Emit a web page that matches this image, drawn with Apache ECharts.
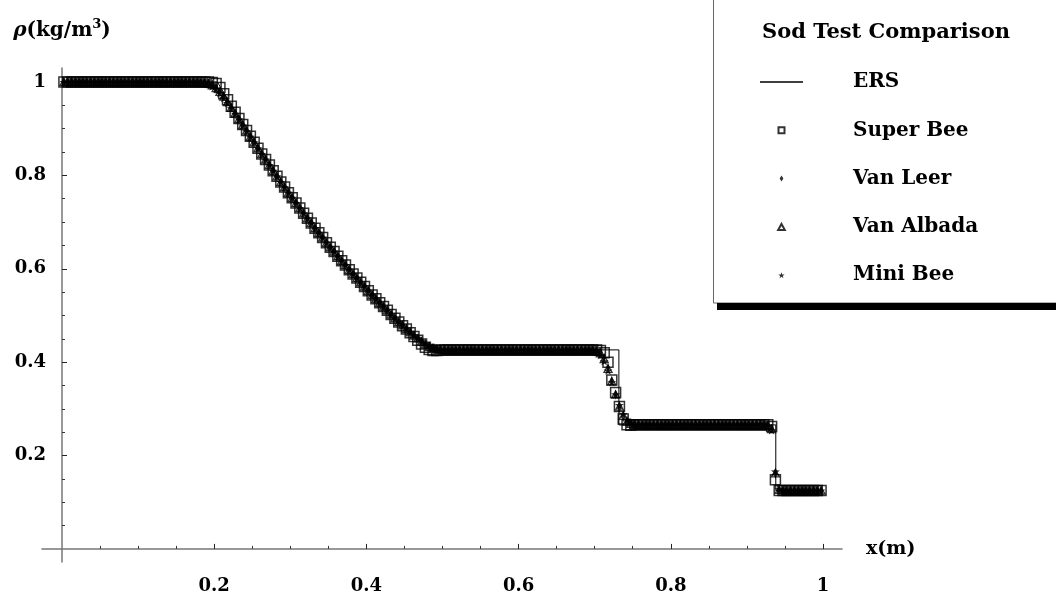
<!DOCTYPE html>
<html>
<head>
<meta charset="utf-8">
<script src="https://cdn.jsdelivr.net/npm/echarts@6/dist/echarts.min.js"></script>
<style>
html,body{margin:0;padding:0;background:#fff;}
#chart{width:1056px;height:603px;}
</style>
</head>
<body>
<div id="chart"></div>
<script>
// cell centres (200 cells)
const xCells = [
0.0025,0.0075,0.0125,0.0175,0.0225,0.0275,0.0325,0.0375,0.0425,0.0475,
0.0525,0.0575,0.0625,0.0675,0.0725,0.0775,0.0825,0.0875,0.0925,0.0975,
0.1025,0.1075,0.1125,0.1175,0.1225,0.1275,0.1325,0.1375,0.1425,0.1475,
0.1525,0.1575,0.1625,0.1675,0.1725,0.1775,0.1825,0.1875,0.1925,0.1975,
0.2025,0.2075,0.2125,0.2175,0.2225,0.2275,0.2325,0.2375,0.2425,0.2475,
0.2525,0.2575,0.2625,0.2675,0.2725,0.2775,0.2825,0.2875,0.2925,0.2975,
0.3025,0.3075,0.3125,0.3175,0.3225,0.3275,0.3325,0.3375,0.3425,0.3475,
0.3525,0.3575,0.3625,0.3675,0.3725,0.3775,0.3825,0.3875,0.3925,0.3975,
0.4025,0.4075,0.4125,0.4175,0.4225,0.4275,0.4325,0.4375,0.4425,0.4475,
0.4525,0.4575,0.4625,0.4675,0.4725,0.4775,0.4825,0.4875,0.4925,0.4975,
0.5025,0.5075,0.5125,0.5175,0.5225,0.5275,0.5325,0.5375,0.5425,0.5475,
0.5525,0.5575,0.5625,0.5675,0.5725,0.5775,0.5825,0.5875,0.5925,0.5975,
0.6025,0.6075,0.6125,0.6175,0.6225,0.6275,0.6325,0.6375,0.6425,0.6475,
0.6525,0.6575,0.6625,0.6675,0.6725,0.6775,0.6825,0.6875,0.6925,0.6975,
0.7025,0.7075,0.7125,0.7175,0.7225,0.7275,0.7325,0.7375,0.7425,0.7475,
0.7525,0.7575,0.7625,0.7675,0.7725,0.7775,0.7825,0.7875,0.7925,0.7975,
0.8025,0.8075,0.8125,0.8175,0.8225,0.8275,0.8325,0.8375,0.8425,0.8475,
0.8525,0.8575,0.8625,0.8675,0.8725,0.8775,0.8825,0.8875,0.8925,0.8975,
0.9025,0.9075,0.9125,0.9175,0.9225,0.9275,0.9325,0.9375,0.9425,0.9475,
0.9525,0.9575,0.9625,0.9675,0.9725,0.9775,0.9825,0.9875,0.9925,0.9975
];

const superBee = [
1,1,1,1,1,1,1,1,1,1,
1,1,1,1,1,1,1,1,1,1,
1,1,1,1,1,1,1,1,1,1,
1,1,1,1,1,1,1,1,1,0.999,
0.997,0.988,0.975,0.962,0.948,0.935,0.922,0.909,0.896,0.884,
0.871,0.858,0.846,0.834,0.822,0.810,0.798,0.786,0.775,0.763,
0.752,0.741,0.730,0.719,0.708,0.698,0.687,0.677,0.667,0.656,
0.646,0.637,0.627,0.617,0.608,0.598,0.589,0.580,0.571,0.562,
0.553,0.544,0.536,0.527,0.519,0.511,0.502,0.494,0.486,0.478,
0.471,0.463,0.455,0.447,0.439,0.432,0.427,0.425,0.425,0.426,
0.426,0.426,0.426,0.426,0.426,0.426,0.426,0.426,0.426,0.426,
0.426,0.426,0.426,0.426,0.426,0.426,0.426,0.426,0.426,0.426,
0.426,0.426,0.426,0.426,0.426,0.426,0.426,0.426,0.426,0.426,
0.426,0.426,0.426,0.426,0.426,0.426,0.426,0.426,0.426,0.426,
0.426,0.425,0.420,0.400,0.362,0.335,0.305,0.278,0.266,0.265,
0.266,0.266,0.266,0.266,0.266,0.266,0.266,0.266,0.266,0.266,
0.266,0.266,0.266,0.266,0.266,0.266,0.266,0.266,0.266,0.266,
0.266,0.266,0.266,0.266,0.266,0.266,0.266,0.266,0.266,0.266,
0.266,0.266,0.266,0.266,0.266,0.266,0.262,0.148,0.125,0.125,
0.125,0.125,0.125,0.125,0.125,0.125,0.125,0.125,0.125,0.125
];

const vanLeer = [
1,1,1,1,1,1,1,1,1,1,
1,1,1,1,1,1,1,1,1,1,
1,1,1,1,1,1,1,1,1,1,
1,1,1,1,1,1,1,0.999,0.998,0.995,
0.989,0.981,0.970,0.958,0.946,0.934,0.921,0.909,0.896,0.883,
0.871,0.858,0.846,0.834,0.822,0.810,0.798,0.786,0.775,0.763,
0.752,0.741,0.730,0.719,0.708,0.698,0.687,0.677,0.667,0.656,
0.646,0.637,0.627,0.617,0.608,0.598,0.589,0.580,0.571,0.562,
0.553,0.544,0.536,0.527,0.519,0.511,0.502,0.494,0.486,0.479,
0.471,0.464,0.457,0.450,0.443,0.437,0.432,0.429,0.427,0.426,
0.426,0.426,0.426,0.426,0.426,0.426,0.426,0.426,0.426,0.426,
0.426,0.426,0.426,0.426,0.426,0.426,0.426,0.426,0.426,0.426,
0.426,0.426,0.426,0.426,0.426,0.426,0.426,0.426,0.426,0.426,
0.426,0.426,0.426,0.426,0.426,0.426,0.426,0.426,0.426,0.426,
0.425,0.421,0.410,0.388,0.360,0.330,0.302,0.282,0.271,0.267,
0.266,0.266,0.266,0.266,0.266,0.266,0.266,0.266,0.266,0.266,
0.266,0.266,0.266,0.266,0.266,0.266,0.266,0.266,0.266,0.266,
0.266,0.266,0.266,0.266,0.266,0.266,0.266,0.266,0.266,0.266,
0.266,0.266,0.266,0.266,0.266,0.265,0.258,0.160,0.126,0.125,
0.125,0.125,0.125,0.125,0.125,0.125,0.125,0.125,0.125,0.125
];

const vanAlbada = [
1,1,1,1,1,1,1,1,1,1,
1,1,1,1,1,1,1,1,1,1,
1,1,1,1,1,1,1,1,1,1,
1,1,1,1,1,1,0.999,0.999,0.997,0.993,
0.987,0.979,0.969,0.957,0.945,0.933,0.921,0.908,0.896,0.883,
0.871,0.858,0.846,0.834,0.822,0.810,0.798,0.786,0.775,0.763,
0.752,0.741,0.730,0.719,0.708,0.698,0.687,0.677,0.667,0.656,
0.646,0.637,0.627,0.617,0.608,0.598,0.589,0.580,0.571,0.562,
0.553,0.544,0.536,0.527,0.519,0.511,0.502,0.494,0.486,0.479,
0.471,0.464,0.457,0.451,0.444,0.438,0.433,0.430,0.428,0.427,
0.426,0.426,0.426,0.426,0.426,0.426,0.426,0.426,0.426,0.426,
0.426,0.426,0.426,0.426,0.426,0.426,0.426,0.426,0.426,0.426,
0.426,0.426,0.426,0.426,0.426,0.426,0.426,0.426,0.426,0.426,
0.426,0.426,0.426,0.426,0.426,0.426,0.426,0.426,0.426,0.426,
0.424,0.419,0.407,0.386,0.359,0.331,0.305,0.285,0.273,0.268,
0.266,0.266,0.266,0.266,0.266,0.266,0.266,0.266,0.266,0.266,
0.266,0.266,0.266,0.266,0.266,0.266,0.266,0.266,0.266,0.266,
0.266,0.266,0.266,0.266,0.266,0.266,0.266,0.266,0.266,0.266,
0.266,0.266,0.266,0.266,0.266,0.265,0.257,0.162,0.127,0.125,
0.125,0.125,0.125,0.125,0.125,0.125,0.125,0.125,0.125,0.125
];

const miniBee = [
1,1,1,1,1,1,1,1,1,1,
1,1,1,1,1,1,1,1,1,1,
1,1,1,1,1,1,1,1,1,1,
1,1,1,1,1,0.999,0.999,0.998,0.995,0.991,
0.985,0.976,0.966,0.955,0.944,0.932,0.920,0.907,0.895,0.883,
0.871,0.858,0.846,0.834,0.822,0.810,0.798,0.786,0.775,0.763,
0.752,0.741,0.730,0.719,0.708,0.698,0.687,0.677,0.667,0.656,
0.646,0.637,0.627,0.617,0.608,0.598,0.589,0.580,0.571,0.562,
0.553,0.544,0.536,0.527,0.519,0.511,0.502,0.494,0.486,0.479,
0.472,0.465,0.458,0.452,0.446,0.440,0.435,0.431,0.429,0.427,
0.426,0.426,0.426,0.426,0.426,0.426,0.426,0.426,0.426,0.426,
0.426,0.426,0.426,0.426,0.426,0.426,0.426,0.426,0.426,0.426,
0.426,0.426,0.426,0.426,0.426,0.426,0.426,0.426,0.426,0.426,
0.426,0.426,0.426,0.426,0.426,0.426,0.426,0.426,0.426,0.425,
0.422,0.415,0.402,0.382,0.357,0.331,0.308,0.289,0.277,0.270,
0.267,0.266,0.266,0.266,0.266,0.266,0.266,0.266,0.266,0.266,
0.266,0.266,0.266,0.266,0.266,0.266,0.266,0.266,0.266,0.266,
0.266,0.266,0.266,0.266,0.266,0.266,0.266,0.266,0.266,0.266,
0.266,0.266,0.266,0.266,0.266,0.264,0.254,0.166,0.128,0.125,
0.125,0.125,0.125,0.125,0.125,0.125,0.125,0.125,0.125,0.125
];

// exact Riemann solver profile
const ersX = [0,0.2042,
0.2075,0.2175,0.2275,0.2375,0.2475,0.2575,0.2675,0.2775,0.2875,0.2975,
0.3075,0.3175,0.3275,0.3375,0.3475,0.3575,0.3675,0.3775,0.3875,0.3975,
0.4075,0.4175,0.4275,0.4375,0.4475,0.4575,0.4675,0.4775,
0.4824,0.7318,0.7318,0.9380,0.9380,1];
const ersY = [1,1,
0.991,0.963,0.936,0.910,0.884,0.859,0.834,0.810,0.786,0.763,
0.741,0.719,0.698,0.677,0.656,0.637,0.617,0.598,0.580,0.562,
0.544,0.527,0.511,0.494,0.478,0.463,0.448,0.433,
0.4263,0.4263,0.2656,0.2656,0.125,0.125];

const xMajorTicks = [0.2,0.4,0.6,0.8,1];
const xMinorTicks = [0.05,0.1,0.15,0.25,0.3,0.35,0.45,0.5,0.55,0.65,0.7,0.75,0.85,0.9,0.95];
const yMajorTicks = [0.2,0.4,0.6,0.8,1];
const yMinorTicks = [0.05,0.1,0.15,0.25,0.3,0.35,0.45,0.5,0.55,0.65,0.7,0.75,0.85,0.9,0.95];

function pairs(xs, ys){ return xs.map(function(x,i){ return [x, ys[i]]; }); }

const FONT = 'DejaVu Serif';
const SQUARE = 'path://M0,0L10,0L10,10L0,10Z';
const TRIANGLE = 'path://M5,0L10,9L0,9Z';
const STAR = 'path://M0,-10L2.35,-3.24L9.51,-3.09L3.8,1.24L5.88,8.09L0,4L-5.88,8.09L-3.8,1.24L-9.51,-3.09L-2.35,-3.24Z';
const DIAMOND = 'path://M0,-8L5,0L0,8L-5,0Z';
const RULE = 'path://M0,0L43,0L43,1.4L0,1.4Z';

const XMIN = -0.0263, XMAX = 1.025, YMIN = -0.028, YMAX = 1.030;
const axisLineStyle = {color:'#777', width:1.5};

const chart = echarts.init(document.getElementById('chart'), null, {renderer:'canvas'});
chart.setOption({
  animation:false,
  backgroundColor:'#fff',
  title:{
    text:'Sod Test Comparison', left:762, top:21, padding:0,
    textStyle:{fontFamily:FONT, fontWeight:'bold', fontSize:21, color:'#000', lineHeight:24}
  },
  graphic:[
    {type:'rect', z:0, shape:{x:713.5, y:-2, width:400, height:305}, style:{fill:'#fff', stroke:'#666', lineWidth:1}},
    {type:'rect', z:0, shape:{x:717, y:303, width:400, height:7}, style:{fill:'#000'}}
  ],
  legend:{
    orient:'vertical', left:760, top:70, padding:0, itemGap:24.3,
    itemWidth:43, itemHeight:6, selectedMode:false, symbolKeepAspect:true,
    data:[
      {name:'ERS', icon:RULE},
      {name:'Super Bee', icon:SQUARE},
      {name:'Van Leer', icon:DIAMOND},
      {name:'Van Albada', icon:TRIANGLE},
      {name:'Mini Bee', icon:STAR}
    ],
    textStyle:{fontFamily:FONT, fontWeight:'bold', fontSize:20, color:'#000', lineHeight:24, padding:[0,0,0,45]}
  },
  grid:{left:42, top:68, width:800, height:494, containLabel:false, outerBoundsMode:'none'},
  xAxis:[
    {type:'value', min:XMIN, max:XMAX,
     axisLine:{onZero:true, lineStyle:axisLineStyle},
     axisTick:{inside:true, length:5, customValues:xMajorTicks, lineStyle:{color:'#222', width:1}},
     axisLabel:{customValues:xMajorTicks, margin:15, fontFamily:FONT, fontWeight:'bold', fontSize:18, color:'#000'},
     splitLine:{show:false},
     name:'x(m)', nameLocation:'end', nameGap:24,
     nameTextStyle:{fontFamily:FONT, fontWeight:'bold', fontSize:19, color:'#000'}
    },
    {type:'value', min:XMIN, max:XMAX, position:'bottom',
     axisLine:{show:false, onZero:true, onZeroAxisIndex:0},
     axisTick:{inside:true, length:3, customValues:xMinorTicks, lineStyle:{color:'#333', width:1}},
     axisLabel:{show:false}, splitLine:{show:false}}
  ],
  yAxis:[
    {type:'value', min:YMIN, max:YMAX,
     axisLine:{onZero:true, lineStyle:axisLineStyle},
     axisTick:{inside:true, length:5, customValues:yMajorTicks, lineStyle:{color:'#222', width:1}},
     axisLabel:{customValues:yMajorTicks, margin:-4, fontFamily:FONT, fontWeight:'bold', fontSize:18, color:'#000'},
     splitLine:{show:false},
     name:'{r|ρ}{b|(kg/m}{s|3}{b|)}', nameLocation:'end', nameGap:24,
     nameTextStyle:{
       rich:{
         r:{fontFamily:FONT, fontStyle:'italic', fontWeight:'bold', fontSize:20, color:'#000', lineHeight:26},
         b:{fontFamily:FONT, fontWeight:'bold', fontSize:20, color:'#000', lineHeight:26},
         s:{fontFamily:FONT, fontWeight:'bold', fontSize:13, color:'#000', lineHeight:14, verticalAlign:'top'}
       }
     }
    },
    {type:'value', min:YMIN, max:YMAX, position:'left',
     axisLine:{show:false, onZero:true, onZeroAxisIndex:0},
     axisTick:{inside:true, length:3, customValues:yMinorTicks, lineStyle:{color:'#333', width:1}},
     axisLabel:{show:false}, splitLine:{show:false}}
  ],
  series:[
    {name:'Super Bee', type:'scatter', xAxisIndex:0, yAxisIndex:0, z:2,
     symbol:SQUARE, symbolSize:10, symbolKeepAspect:true,
     itemStyle:{color:'rgba(255,255,255,0)', borderColor:'#000', borderWidth:1.5},
     data:pairs(xCells, superBee)},
    {name:'Van Leer', type:'scatter', xAxisIndex:0, yAxisIndex:0, z:3,
     symbol:DIAMOND, symbolSize:[6,10], symbolKeepAspect:true,
     itemStyle:{color:'#000'},
     data:pairs(xCells, vanLeer)},
    {name:'Van Albada', type:'scatter', xAxisIndex:0, yAxisIndex:0, z:4,
     symbol:TRIANGLE, symbolSize:8, symbolKeepAspect:true,
     itemStyle:{color:'rgba(255,255,255,0)', borderColor:'#000', borderWidth:1.3},
     data:pairs(xCells, vanAlbada)},
    {name:'Mini Bee', type:'scatter', xAxisIndex:0, yAxisIndex:0, z:5,
     symbol:STAR, symbolSize:9, symbolKeepAspect:true,
     itemStyle:{color:'#000'},
     data:pairs(xCells, miniBee)},
    {name:'ERS', type:'line', xAxisIndex:0, yAxisIndex:0, z:6,
     symbol:'none', showSymbol:false,
     itemStyle:{color:'#000'},
     lineStyle:{color:'#000', width:1},
     data:pairs(ersX, ersY)}
  ]
});
</script>
</body>
</html>
